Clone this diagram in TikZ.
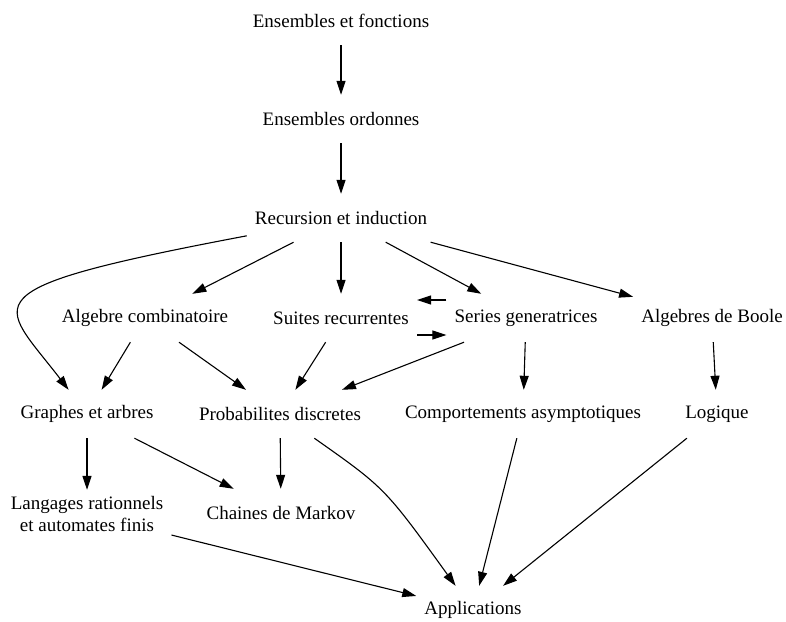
\documentclass[tikz,border=0pt]{standalone}
\usepackage{fontspec}
\setmainfont{Liberation Serif}
\usetikzlibrary{arrows.meta}
\begin{document}
\begin{tikzpicture}[x=1pt,y=-1pt,
  lbl/.style={rectangle, inner xsep=8pt, inner ysep=0pt, minimum height=48pt,
    font=\fontsize{19}{22}\selectfont, align=center},
  edge/.style={-{Triangle[length=14pt,width=9pt]}, line width=1.1pt}]
\useasboundingbox (0,0) rectangle (786,621);
\node[lbl] (ef) at (341,21) {Ensembles et fonctions};
\node[lbl] (eo) at (341,119) {Ensembles ordonnes};
\node[lbl] (ri) at (341,218) {Recursion et induction};
\node[lbl] (alg) at (145,318) {Algebre combinatoire};
\node[lbl] (sui) at (341,318) {Suites recurrentes};
\node[lbl] (ser) at (526,318) {Series generatrices};
\node[lbl] (boole) at (712,318) {Algebres de Boole};
\node[lbl] (gra) at (87,414) {Graphes et arbres};
\node[lbl] (prob) at (280,414) {Probabilites discretes};
\node[lbl] (comp) at (523,414) {Comportements asymptotiques};
\node[lbl] (log) at (717,414) {Logique};
\node[lbl] (lang) at (87,514) {Langages rationnels\\et automates finis};
\node[lbl] (mark) at (281,513) {Chaines de Markov};
\node[lbl] (app) at (473,610) {Applications};

\draw[edge] (ef) -- (eo);
\draw[edge] (eo) -- (ri);
\draw[edge] (ri) .. controls (-40,290) and (0,300) .. (gra);
\draw[edge] (ri) -- (alg);
\draw[edge] (ri) -- (sui);
\draw[edge] (ri) -- (ser);
\draw[edge] (ri) -- (boole);
\draw[edge] ([yshift=18pt]ser.west) -- ([yshift=18pt]sui.east);
\draw[edge] ([yshift=-17pt]sui.east) -- ([yshift=-17pt]ser.west);
\draw[edge] (alg) -- (gra);
\draw[edge] (alg) -- (prob);
\draw[edge] (sui) -- (prob);
\draw[edge] (ser) -- (prob);
\draw[edge] (ser) -- (comp);
\draw[edge] (boole) -- (log);
\draw[edge] (gra) -- (lang);
\draw[edge] (gra) -- (mark);
\draw[edge] (prob) -- (mark);
\draw[edge] (prob) .. controls (385,488) .. (app);
\draw[edge] (comp) -- (app);
\draw[edge] (log) -- (app);
\draw[edge] (lang) -- (app);
\end{tikzpicture}
\end{document}
